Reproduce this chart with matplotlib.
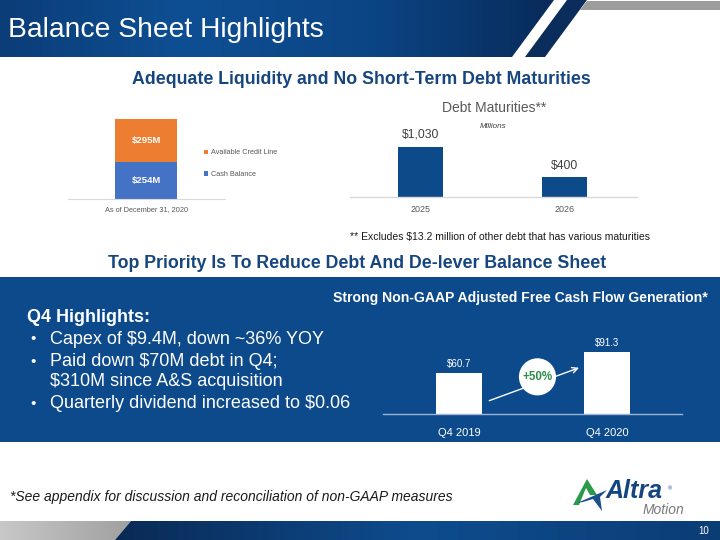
import matplotlib.pyplot as plt
import numpy as np
from matplotlib.colors import LinearSegmentedColormap
from matplotlib.patches import Polygon, Rectangle

W, H = 720, 540

# ---- slide data
title = "Balance Sheet Highlights"
subtitle_top = "Adequate Liquidity and No Short-Term Debt Maturities"
subtitle_mid = "Top Priority Is To Reduce Debt And De-lever Balance Sheet"

liquidity_dates = ["As of December 31, 2020"]
cash_balance = [254]
credit_line = [295]

debt_years = ["2025", "2026"]
debt_maturities = [1030, 400]

fcf_quarters = ["Q4 2019", "Q4 2020"]
fcf_values = [60.7, 91.3]

highlights = [
    "Capex of $9.4M, down ~36% YOY",
    "Paid down $70M debt in Q4;\n$310M since A&S acquisition",
    "Quarterly dividend increased to $0.06",
]

NAVY = "#0C4A8C"
BAR_NAVY = "#0D4A8A"
TITLE_BLUE = "#17467F"
ORANGE = "#ED7D31"
BLUE = "#4472C4"
GREEN = "#2E8B4A"

plt.rcParams["font.family"] = "Liberation Sans"

fig = plt.figure(figsize=(7.2, 5.4), dpi=100)
bg = fig.add_axes([0, 0, 1, 1])


def reset_bg():
    bg.set_xlim(0, W)
    bg.set_ylim(H, 0)
    bg.axis("off")


def px_axes(x0, y0, x1, y1):
    ax = fig.add_axes([x0 / W, 1 - y1 / H, (x1 - x0) / W, (y1 - y0) / H])
    ax.patch.set_alpha(0)
    return ax


def gradient(points, colors, x0, x1, y0, y1):
    cmap = LinearSegmentedColormap.from_list("grad", colors)
    poly = Polygon(points, closed=True, fc="none", ec="none")
    bg.add_patch(poly)
    im = bg.imshow(np.linspace(0, 1, 256)[None, :], cmap=cmap,
                   extent=(x0, x1, y1, y0), aspect="auto", zorder=1)
    im.set_clip_path(poly)


reset_bg()

# ---- header banner
gradient([(0, 0), (554, 0), (512, 57), (0, 57)],
         ["#0B3D78", "#0E4F93", "#0C4585", "#082B5A"], 0, 554, 0, 57)
bg.add_patch(Polygon([(567, 0), (587, 0), (545, 57), (525, 57)],
                     fc="#0A2D5C", ec="none", zorder=2))
bg.add_patch(Polygon([(587, 1), (720, 1), (720, 10), (580, 10)],
                     fc="#9C9C9C", ec="none", zorder=2))
bg.text(8, 30, title, color="white", fontsize=20.3, va="center", zorder=3)

# ---- section titles
bg.text(361, 80, subtitle_top, color=TITLE_BLUE, fontsize=12.8,
        fontweight="bold", ha="center", va="center")
bg.text(357, 264, subtitle_mid, color=TITLE_BLUE, fontsize=12.8,
        fontweight="bold", ha="center", va="center")

# ---- blue panel
bg.add_patch(Rectangle((0, 277), W, 165, fc=NAVY, ec="none", zorder=0))
bg.text(708, 298, "Strong Non-GAAP Adjusted Free Cash Flow Generation*",
        color="white", fontsize=10.05, fontweight="bold", ha="right", va="center")
bg.text(27, 317, "Q4 Highlights:", color="white", fontsize=13,
        fontweight="bold", va="center")
y = 339
for item in highlights:
    lines = item.split("\n")
    bg.text(30, y, "\u2022", color="white", fontsize=11, va="center")
    for k, line in enumerate(lines):
        bg.text(50, y + 19 * k, line, color="white", fontsize=13, va="center")
    y += 23 + 19 * (len(lines) - 1)

# ---- footer
bg.text(10, 497, "*See appendix for discussion and reconciliation of non-GAAP measures",
        color="#1A1A1A", fontsize=10, fontstyle="italic", va="center")
gradient([(0, 521), (131, 521), (115, 540), (0, 540)],
         ["#C8C8C8", "#A0A0A0"], 0, 131, 521, 540)
gradient([(131, 521), (720, 521), (720, 540), (115, 540)],
         ["#0A2A55", "#0E4C8E", "#0B3D75"], 115, 720, 521, 540)
bg.text(704, 531, "10", color="white", fontsize=7, ha="center", va="center", zorder=3)

# logo
bg.add_patch(Polygon([(573, 505), (587, 479), (597, 495), (590, 495), (586, 488), (579, 505)],
                     fc="#2A9A4A", ec="none", zorder=3))
bg.add_patch(Polygon([(577, 503), (607, 490), (600, 497), (602, 511), (593, 499), (583, 502)],
                     fc="#1B4E8C", ec="none", zorder=3))
bg.text(606, 498, "Altra", color="#13457F", fontsize=18, fontweight="bold",
        fontstyle="italic", va="baseline", zorder=3)
bg.text(668, 489, "\u00ae", color="#13457F", fontsize=4, va="center", zorder=3)
bg.text(684, 510, "Motion", color="#7A7A7A", fontsize=10, fontstyle="italic",
        ha="right", va="center", zorder=3)
reset_bg()

# ---- liquidity stacked bar
ax1 = px_axes(68, 105, 225, 199)
x1 = np.arange(len(liquidity_dates))
b_cash = ax1.bar(x1, cash_balance, width=1.0, color=BLUE, label="Cash Balance")
b_credit = ax1.bar(x1, credit_line, width=1.0, bottom=cash_balance, color=ORANGE,
                   label="Available Credit Line")
ax1.bar_label(b_cash, labels=[f"${v}M" for v in cash_balance], label_type="center",
              color="white", fontsize=6.8, fontweight="bold")
ax1.bar_label(b_credit, labels=[f"${v}M" for v in credit_line], label_type="center",
              color="white", fontsize=6.8, fontweight="bold")
ax1.set_xlim(-1.26, 1.27)
ax1.set_ylim(0, 645)
ax1.set_xticks(x1, liquidity_dates, fontsize=5.3, color="#595959")
ax1.set_yticks([])
ax1.tick_params(axis="x", length=0, pad=5)
for s in ["top", "right", "left"]:
    ax1.spines[s].set_visible(False)
ax1.spines["bottom"].set_color("#D9D9D9")
ax1.spines["bottom"].set_linewidth(0.8)
handles, labels = ax1.get_legend_handles_labels()
fig.legend(handles[::-1], labels[::-1], loc="upper left",
           bbox_to_anchor=(197 / W, 1 - 143 / H), frameon=False, fontsize=5.2,
           handlelength=0.6, handleheight=0.6, handletextpad=0.5,
           labelspacing=2.05, labelcolor="#595959")

# ---- debt maturities
ax2 = px_axes(350, 110, 637, 197)
x2 = np.arange(len(debt_years))
b_debt = ax2.bar(x2, debt_maturities, width=0.3125, color=BAR_NAVY)
ax2.bar_label(b_debt, labels=[f"${v:,}" for v in debt_maturities], padding=4,
              fontsize=8.7, color="#404040")
ax2.set_xlim(-0.493, 1.5)
ax2.set_ylim(0, 1775)
ax2.set_xticks(x2, debt_years, fontsize=6.5, color="#595959")
ax2.set_yticks([])
ax2.tick_params(axis="x", length=0, pad=6)
for s in ["top", "right", "left"]:
    ax2.spines[s].set_visible(False)
ax2.spines["bottom"].set_color("#D9D9D9")
ax2.spines["bottom"].set_linewidth(1)
bg.text(494, 108, "Debt Maturities**", color="#595959", fontsize=10,
        ha="center", va="center")
bg.text(493, 127, "Millions", color="#404040", fontsize=5.8, fontstyle="italic",
        ha="center", va="center")
bg.text(350, 237, "** Excludes $13.2 million of other debt that has various maturities",
        color="#1A1A1A", fontsize=7.5, va="center")

# ---- free cash flow
ax3 = px_axes(383, 330, 682, 414)
x3 = np.arange(len(fcf_quarters))
bw = 0.311
b_fcf = ax3.bar(x3, fcf_values, width=bw, color="white", zorder=2)
ax3.bar_label(b_fcf, labels=[f"${v}" for v in fcf_values], padding=3,
              fontsize=7, color="white")
ax3.set_xlim(-0.514, 1.507)
ax3.set_ylim(0, 123.5)
ax3.set_xticks(x3, fcf_quarters, fontsize=8, color="white")
ax3.set_yticks([])
ax3.tick_params(axis="x", length=0, pad=10)
for s in ["top", "right", "left"]:
    ax3.spines[s].set_visible(False)
ax3.spines["bottom"].set_color("#9FB4D3")
ax3.spines["bottom"].set_linewidth(1)
growth = (fcf_values[1] / fcf_values[0] - 1) * 100
ax3.annotate("", xy=(x3[1] - bw * 0.55, fcf_values[1] * 0.76),
             xytext=(x3[0] + bw * 0.6, fcf_values[0] * 0.3),
             arrowprops=dict(arrowstyle="->", color="white", lw=1), zorder=3)
ax3.text(0.53, fcf_values[0] * 0.9, f"+{growth:.0f}%", color=GREEN, fontsize=8.4,
         fontweight="bold", ha="center", va="center", zorder=4,
         bbox=dict(boxstyle="circle,pad=0.3", fc="white", ec="none"))

fig.savefig("out.png", dpi=100)
